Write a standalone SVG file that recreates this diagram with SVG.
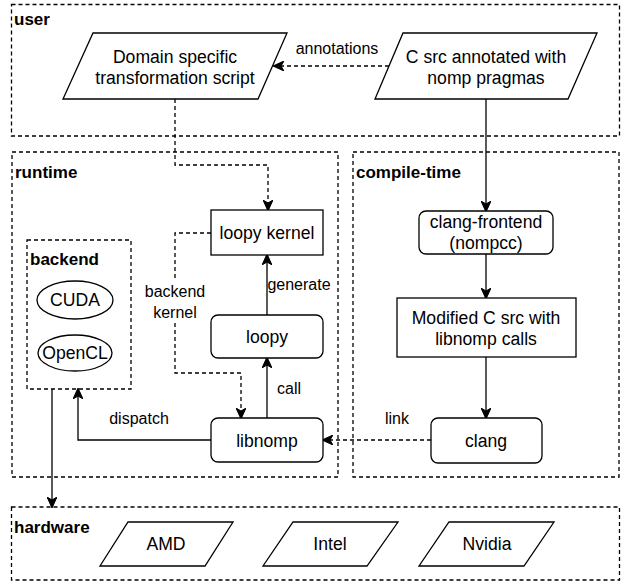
<svg xmlns="http://www.w3.org/2000/svg" width="623" height="584" viewBox="0 0 623 584">
<style>
  text{font-family:"Liberation Sans",Arial,Helvetica,sans-serif;fill:#000;}
  .t{font-size:17.6px;text-anchor:middle;dominant-baseline:central;}
  .lbl{font-size:16px;text-anchor:middle;dominant-baseline:central;}
  .hd{font-size:17px;font-weight:bold;dominant-baseline:central;}
  .box{fill:#fff;stroke:#000;stroke-width:1.3;}
  .grp{fill:none;stroke:#000;stroke-width:1.3;stroke-dasharray:4 3;}
  .e{fill:none;stroke:#000;stroke-width:1.3;marker-end:url(#arr);}
  .d{stroke-dasharray:4 3;}
</style>
<defs>
  <marker id="arr" markerUnits="userSpaceOnUse" markerWidth="12" markerHeight="10" refX="10" refY="5" orient="auto" viewBox="0 0 12 10">
    <path d="M0,0 L11,5 L0,10 L3,5 Z" fill="#000" stroke="#000" stroke-width="1" stroke-dasharray="none"/>
  </marker>
</defs>
<rect width="623" height="584" fill="#fff"/>

<g id="containers">
  <g id="user"><rect class="grp" x="11.5" y="4.5" width="608" height="131.5"/><text class="hd" x="14" y="19">user</text></g>
  <g id="runtime"><rect class="grp" x="12" y="152" width="326" height="325"/><text class="hd" x="15" y="172">runtime</text></g>
  <g id="compile-time"><rect class="grp" x="353" y="152" width="266" height="325"/><text class="hd" x="356" y="172">compile-time</text></g>
  <g id="backend"><rect class="grp" x="27" y="240" width="104" height="149"/><text class="hd" x="30" y="259">backend</text></g>
  <g id="hardware"><rect class="grp" x="11.5" y="507" width="608" height="73"/><text class="hd" x="14" y="527">hardware</text></g>
</g>

<g id="connectors">
  <path class="e d" d="M389,66 H274"/>
  <text class="lbl" x="337" y="48">annotations</text>
  <path class="e d" d="M175,99 V165 H268 V210"/>
  <path class="e" d="M486,99 V211"/>
  <path class="e" d="M267,315 V255"/>
  <text class="lbl" x="299" y="284">generate</text>
  <path class="e" d="M267,418 V358"/>
  <text class="lbl" x="289" y="388">call</text>
  <path class="e d" d="M211,233 H175 V373 H241 V418"/>
  <rect x="144" y="280" width="62" height="42" fill="#fff"/>
  <text class="lbl" x="175" y="291">backend</text>
  <text class="lbl" x="175" y="312">kernel</text>
  <path class="e" d="M211,440 H78 V389"/>
  <text class="lbl" x="139" y="418">dispatch</text>
  <path class="e" d="M52,389 V507"/>
  <path class="e" d="M486,254 V298"/>
  <path class="e" d="M486,357 V418"/>
  <path class="e d" d="M431,440 H323"/>
  <text class="lbl" x="397" y="418">link</text>
</g>

<g id="domain-script"><polygon class="box" points="93,33 287,33 258,99 63,99"/><text class="t" x="175" y="56.5">Domain specific</text><text class="t" x="175" y="78">transformation script</text></g>
<g id="c-src"><polygon class="box" points="403,33 597,33 568,99 375,99"/><text class="t" x="486" y="56.5">C src annotated with</text><text class="t" x="486" y="78">nomp pragmas</text></g>
<g id="loopy-kernel"><rect class="box" x="211" y="210" width="112" height="45"/><text class="t" x="267" y="233">loopy kernel</text></g>
<g id="loopy"><rect class="box" x="211" y="315" width="112" height="43" rx="7"/><text class="t" x="267" y="337">loopy</text></g>
<g id="libnomp"><rect class="box" x="211" y="418" width="112" height="44" rx="7"/><text class="t" x="267" y="441">libnomp</text></g>
<g id="cuda"><ellipse class="box" cx="75" cy="300" rx="38" ry="19"/><text class="t" x="75" y="300">CUDA</text></g>
<g id="opencl"><ellipse class="box" cx="75" cy="353" rx="37" ry="18"/><text class="t" x="75" y="353">OpenCL</text></g>
<g id="clang-frontend"><rect class="box" x="419" y="211" width="134" height="43" rx="7"/><text class="t" x="486" y="222">clang-frontend</text><text class="t" x="486" y="243">(nompcc)</text></g>
<g id="modified-src"><rect class="box" x="397" y="298" width="179" height="59"/><text class="t" x="486" y="318">Modified C src with</text><text class="t" x="486" y="339">libnomp calls</text></g>
<g id="clang"><rect class="box" x="431" y="418" width="111" height="45" rx="7"/><text class="t" x="486" y="441">clang</text></g>
<g id="amd"><polygon class="box" points="128,522 233,522 205,566 100,566"/><text class="t" x="166" y="544">AMD</text></g>
<g id="intel"><polygon class="box" points="293,522 398,522 367,566 263,566"/><text class="t" x="330" y="544">Intel</text></g>
<g id="nvidia"><polygon class="box" points="449,522 554,522 524,566 419,566"/><text class="t" x="487" y="544">Nvidia</text></g>
</svg>
